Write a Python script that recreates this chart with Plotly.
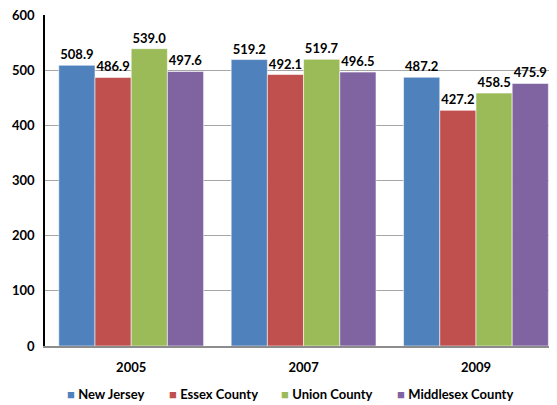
import plotly.graph_objects as go

years = ["2005", "2007", "2009"]
series_names = ["New Jersey", "Essex County", "Union County", "Middlesex County"]
new_jersey = [508.9, 519.2, 487.2]
essex = [486.9, 492.1, 427.2]
union = [539.0, 519.7, 458.5]
middlesex = [497.6, 496.5, 475.9]
colors = ["#4F81BD", "#C0504D", "#9BBB59", "#8064A2"]

FONT = "Lato, 'Open Sans', Arial, sans-serif"
# page body has an 8px margin, so the figure is sized to the visible area
W, H = 549, 397
L, R, T, B = 37, 0, 7, 59

fig = go.Figure()
for name, vals, color in zip(series_names, [new_jersey, essex, union, middlesex], colors):
    fig.add_trace(
        go.Bar(
            x=years,
            y=vals,
            name=name,
            marker=dict(color=color, line=dict(color="rgba(255,255,255,0.55)", width=1)),
            text=[f"<b>{v:.1f}</b>" for v in vals],
            textposition="outside",
            textfont=dict(family=FONT, size=13, color="#000000"),
            cliponaxis=False,
            showlegend=False,
        )
    )

# legend drawn as text items (Excel-style compact legend)
legend_x = [57, 159, 271, 387]
legend_y = 386
plot_w = W - L - R
plot_h = H - T - B
for name, color, px in zip(series_names, colors, legend_x):
    fig.add_annotation(
        text=f"<span style='color:{color}'>■</span> <b>{name}</b>",
        xref="paper",
        yref="paper",
        x=(px - L) / plot_w,
        y=-(legend_y - (H - B)) / plot_h,
        xanchor="left",
        yanchor="middle",
        showarrow=False,
        font=dict(family=FONT, size=13, color="#000000"),
    )

fig.update_layout(
    width=W,
    height=H,
    margin=dict(l=L, r=R, t=T, b=B, autoexpand=False),
    paper_bgcolor="white",
    plot_bgcolor="white",
    font=dict(family=FONT, size=13, color="#000000"),
    barmode="group",
    bargap=0.16,
    bargroupgap=0,
    xaxis=dict(
        range=[-0.5, 2.47],
        showline=True,
        linecolor="#8C8C8C",
        linewidth=1.5,
        tickfont=dict(family=FONT, size=13),
        tickprefix="<b>",
        ticksuffix="</b>",
        ticks="",
        ticklabelstandoff=9,
        automargin=False,
    ),
    yaxis=dict(
        range=[0, 600],
        dtick=100,
        showline=True,
        linecolor="#000000",
        linewidth=1.5,
        gridcolor="#A6A6A6",
        gridwidth=1,
        zeroline=False,
        tickfont=dict(family=FONT, size=13),
        tickprefix="<b>",
        ticksuffix="</b>",
        ticklabelstandoff=6,
        ticklabeloverflow="allow",
        automargin=False,
    ),
)

fig.write_html("out.html")
